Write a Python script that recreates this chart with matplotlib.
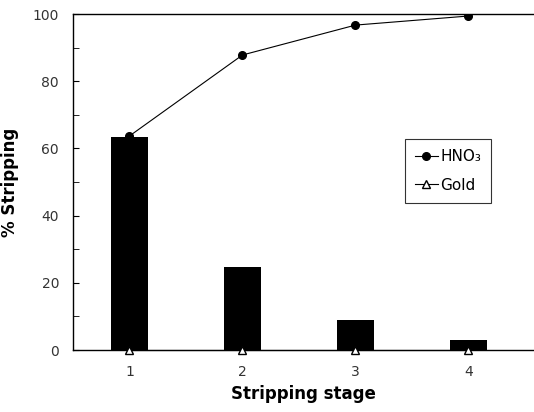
import matplotlib
matplotlib.use('Agg')
import matplotlib.pyplot as plt

stages = [1, 2, 3, 4]
bar_values = [63.4, 24.7, 8.9, 3.0]
hno3 = [63.7, 87.8, 96.7, 99.4]
gold = [0, 0, 0, 0]

fig = plt.figure(figsize=(5.34, 4.12), dpi=100)
ax = fig.add_axes([73 / 534, 62 / 412, 1 - 73 / 534, 336 / 412])

ax.bar(stages, bar_values, width=0.32, color='black', zorder=2)
ax.plot(stages, hno3, '-o', color='black', lw=0.8, ms=5.5, label='HNO₃',
        mec='black', zorder=3)
ax.plot(stages, gold, '-^', color='black', lw=0.8, ms=5.5, mfc='white',
        label='Gold', clip_on=False, zorder=4)

ax.set_xlim(0.5, 4.58)
ax.set_ylim(0, 100)
ax.set_xticks(stages)
ax.set_yticks(range(0, 101, 20))
ax.set_yticks(range(10, 100, 20), minor=True)
ax.tick_params(axis='x', length=0, pad=11, labelsize=10, labelcolor='#333333')
ax.tick_params(axis='y', which='both', direction='in', length=4,
               labelsize=10, labelcolor='#333333', pad=10)
ax.spines['right'].set_visible(False)
for s in ['left', 'top', 'bottom']:
    ax.spines[s].set_linewidth(1.0)

ax.set_xlabel('Stripping stage', fontsize=12, fontweight='bold', labelpad=4)
ax.set_ylabel('% Stripping', fontsize=12, fontweight='bold', labelpad=10)

leg = ax.legend(loc='upper left', bbox_to_anchor=(332 / 461, 211 / 336),
                fontsize=11, frameon=True, fancybox=False,
                edgecolor='black', handlelength=1.5, borderpad=0.65,
                labelspacing=0.9, handletextpad=0.15, borderaxespad=0)
leg.get_frame().set_linewidth(0.8)

plt.savefig('out.png', dpi=100)
plt.close(fig)
